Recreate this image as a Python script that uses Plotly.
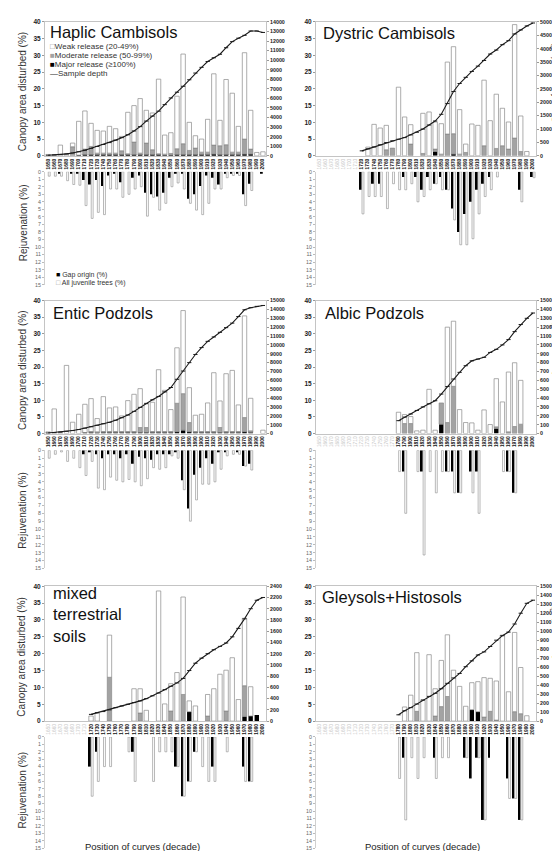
import plotly.graph_objects as go

W, H = 560, 851
FONT = "Liberation Sans, Arial, sans-serif"

decades = [1650, 1660, 1670, 1680, 1690, 1700, 1710, 1720, 1730, 1740, 1750, 1760,
           1770, 1780, 1790, 1800, 1810, 1820, 1830, 1840, 1850, 1860, 1870, 1880,
           1890, 1900, 1910, 1920, 1930, 1940, 1950, 1960, 1970, 1980, 1990, 2000]

# ---------------- Haplic Cambisols ----------------
haplic_weak = [0.4, 0.3, 3.2, 0.5, 1.1, 10.1, 11.4, 6.9, 6.8, 6.6, 8.0, 7.3, 4.3, 12.4, 10.9, 16.3, 9.8, 11.0,
               22.3, 5.7, 6.2, 15.7, 26.8, 8.4, 3.7, 3.9, 9.8, 21.3, 7.6, 19.5, 17.6, 7.7, 25.8, 11.6, 1.0, 1.2]
haplic_moderate = [0, 0, 0, 0, 2.7, 0, 1.7, 2.5, 0.5, 0.5, 0.5, 0.5, 1.2, 0.3, 3.8, 0.5, 3.5, 1.5,
                   0.3, 0.3, 0.5, 1.8, 3.3, 1.3, 2.0, 0.8, 0.8, 2.7, 2.7, 3.0, 0.8, 0.8, 4.5, 1.5, 0, 0]
haplic_major = [0, 0, 0, 0, 0, 0.2, 0.3, 0.3, 0.3, 0.3, 0.3, 0.3, 0.3, 0.3, 0.3, 0.3, 0.3, 0.3,
                0.3, 0.2, 0.2, 0.3, 0.3, 0.3, 0.3, 0.3, 0.3, 0.5, 0.3, 0.3, 0.3, 0.3, 0.5, 0.5, 0, 0]
haplic_depth = [50, 80, 130, 200, 300, 420, 590, 780, 980, 1180, 1380, 1640, 1900, 2200, 2600, 3050, 3630, 4150,
                4670, 5350, 6050, 6650, 7270, 7950, 8650, 9250, 9860, 10250, 10620, 11300, 11940, 12300, 12600,
                13050, 13050, 12900]
haplic_gap = [0, 0, 0.2, 0, 0.2, 0.2, 1.1, 1.7, 1.1, 1.9, 0.5, 0.2, 1.4, 0, 0.8, 0.5, 2.8, 3.0,
              3.3, 2.8, 0.8, 0.2, 0.2, 3.6, 3.0, 1.9, 0.5, 0.8, 1.7, 0.2, 0.2, 0.2, 3.0, 1.6, 0, 0.2]
haplic_juvenile = [0.6, 0.6, 0.6, 1.2, 1.7, 1.8, 4.5, 6.2, 5.4, 5.7, 2.3, 2.3, 3.4, 3.0, 2.3, 2.0, 5.9, 3.4,
                   5.1, 4.2, 2.0, 1.5, 2.3, 4.2, 5.1, 5.7, 4.2, 2.3, 2.3, 0.8, 0.5, 0.5, 4.5, 2.5, 0, 0]

# ---------------- Dystric Cambisols ----------------
dystric_weak = [0, 0, 0, 0, 0, 0, 0, 0, 2.6, 9.4, 8.3, 7.3, 0, 20.5, 11.6, 5.8, 0, 12.0,
                13.1, 8.1, 9.1, 21.5, 26.0, 13.3, 2.5, 9.5, 9.1, 19.6, 10.5, 16.2, 11.2, 8.1, 33.9, 10.6, 1.3, 0]
dystric_moderate = [0, 0, 0, 0, 0, 0, 0, 0, 0, 0, 0, 1.8, 2.3, 0, 0, 3.5, 0, 0.7,
                    0, 0.7, 0.5, 6.5, 6.1, 0.5, 1.0, 0, 0, 3.0, 0, 2.2, 3.0, 2.0, 5.3, 1.3, 0, 0]
dystric_major = [0, 0, 0, 0, 0, 0, 0, 0, 0, 0, 0, 0, 0, 0, 0, 0, 0, 0,
                 0, 1.3, 0, 0, 0.5, 0, 0, 0, 0, 0, 0, 0, 0, 0, 0, 0, 0, 0]
dystric_depth = [None, None, None, None, None, None, None, 185, 260, 330, 410, 494, 560, 620, 680, 780, 880, 1000,
                 1150, 1300, 1550, 1950, 2400, 2700, 2930, 3150, 3350, 3560, 3800, 3950, 4150, 4300, 4550, 4700,
                 4850, 4960]
dystric_gap = [0, 0, 0, 0, 0, 0, 0, 2.4, 0, 1.6, 1.6, 0, 0, 0, 0.7, 0, 0.7, 2.4,
               0.7, 1.6, 0.7, 2.4, 4.9, 8.0, 5.6, 4.0, 2.4, 1.6, 0.7, 0, 0, 0, 0, 2.4, 0, 0.7]
dystric_juvenile = [0, 0, 0, 0, 0, 0, 0, 5.6, 3.3, 3.3, 3.3, 4.9, 1.6, 2.4, 2.4, 1.6, 4.0, 3.3,
                    2.4, 1.6, 2.4, 2.4, 6.4, 9.7, 9.7, 8.9, 5.6, 3.3, 2.4, 0.7, 0, 0, 0, 4.0, 0, 0.8]

# ---------------- Entic Podzols ----------------
entic_weak = [0.5, 7.4, 0.3, 20.5, 3.4, 5.8, 8.5, 9.9, 4.0, 10.5, 7.1, 7.4, 4.7, 9.3, 11.2, 11.7, 7.1, 8.8,
              18.6, 12.4, 6.6, 16.7, 25.0, 10.5, 4.9, 5.2, 8.6, 17.7, 8.0, 17.4, 18.4, 8.0, 30.6, 9.8, 0, 1.0]
entic_moderate = [0, 0, 0, 0, 0, 0, 0, 0.3, 0.3, 0.3, 0.3, 0.3, 0.3, 0.3, 0.3, 1.5, 1.5, 0.3,
                  0.3, 0.3, 0.3, 8.6, 11.0, 2.8, 0.3, 0.3, 0.3, 0.3, 1.5, 0.3, 0.3, 0.3, 4.3, 0.5, 0, 0]
entic_major = [0, 0, 0, 0, 0, 0, 0.3, 0.3, 0.2, 0.3, 0.3, 0.3, 0.3, 0.3, 0.3, 0.3, 0.3, 0.3,
               0.3, 0.3, 0.3, 0.5, 1.0, 0.5, 0.3, 0.3, 0.3, 0.3, 0.3, 0.3, 0.3, 0.3, 0.5, 0.3, 0, 0]
entic_depth = [50, 100, 160, 250, 330, 450, 600, 760, 930, 1100, 1270, 1500, 1780, 2090, 2500, 2950, 3400, 3800,
               4180, 4700, 5190, 6120, 7050, 8000, 8920, 9700, 10400, 10900, 11420, 11950, 12460, 13200, 13960,
               14200, 14350, 14450]
entic_gap = [0, 0, 0, 0, 0, 0, 0.5, 0.2, 0.5, 1.0, 0.5, 0.5, 1.0, 0.5, 1.7, 0.8, 1.0, 1.2,
             0.5, 0.5, 0.5, 0.2, 3.8, 7.4, 3.1, 2.2, 1.0, 1.7, 0.2, 0.2, 0, 0.2, 2.0, 1.7, 0, 0]
entic_juvenile = [1.0, 0.5, 0.2, 1.4, 1.0, 2.2, 3.2, 1.4, 4.8, 5.0, 3.4, 3.8, 4.0, 3.7, 4.0, 4.5, 3.6, 2.2,
                  2.4, 2.2, 0.7, 1.0, 5.0, 9.0, 6.3, 4.3, 4.3, 4.0, 2.4, 0.7, 0.5, 0.5, 2.0, 2.5, 0, 0]

# ---------------- Albic Podzols ----------------
albic_weak = [0, 0, 0, 0, 0, 0, 0, 0, 0, 0, 0, 0, 0, 6.4, 2.7, 2.1, 0.8, 1.0,
              13.3, 1.0, 0, 28.7, 19.6, 7.2, 3.3, 3.2, 1.0, 7.1, 2.7, 14.5, 9.5, 18.0, 19.2, 13.2, 0, 0]
albic_moderate = [0, 0, 0, 0, 0, 0, 0, 0, 0, 0, 0, 0, 0, 0, 3.0, 3.0, 0, 0,
                  0, 0, 6.4, 3.3, 14.2, 0, 0, 0, 0, 0, 0, 0.5, 0, 0.5, 2.1, 2.8, 0, 0]
albic_major = [0, 0, 0, 0, 0, 0, 0, 0, 0, 0, 0, 0, 0, 0, 0, 0, 0, 0,
               0, 0, 2.8, 0, 0, 0, 0, 0, 0, 0, 0, 1.5, 0, 0, 0, 0, 0, 0]
albic_depth = [None, None, None, None, None, None, None, None, None, None, None, None, None, 145, 185, 220, 260, 300,
               335, 370, 445, 530, 615, 690, 765, 820, 840, 860, 915, 950, 1000, 1060, 1150, 1230, 1300, 1360]
albic_gap = [0, 0, 0, 0, 0, 0, 0, 0, 0, 0, 0, 0, 0, 0, 2.7, 0, 0, 2.7,
             0, 0, 0, 2.7, 2.7, 5.4, 0, 2.7, 2.7, 0, 0, 0, 0, 2.7, 5.4, 0, 0, 0]
albic_juvenile = [0, 0, 0, 0, 0, 0, 0, 0, 0, 0, 0, 0, 0, 2.7, 8.0, 0, 2.7, 13.3,
                  2.7, 5.4, 2.7, 2.7, 5.4, 5.4, 0, 5.4, 8.0, 0, 0, 0, 2.7, 2.7, 5.4, 0, 0, 0]

# ---------------- mixed terrestrial soils ----------------
mixed_weak = [0, 0, 0, 0, 0, 0, 0, 1.5, 2.4, 0, 12.5, 0, 0, 0, 9.6, 7.2, 3.2, 0,
              38.6, 5.1, 8.1, 14.4, 28.9, 3.2, 4.5, 0, 6.4, 9.6, 13.9, 12.1, 18.8, 6.4, 20.0, 8.7, 0, 0]
mixed_moderate = [0, 0, 0, 0, 0, 0, 0, 0, 0, 0, 13.0, 0, 0, 0, 0, 2.4, 0, 0,
                  0, 0, 3.0, 0, 7.9, 0, 0, 0, 1.5, 0, 0, 3.0, 0, 0, 9.1, 0, 0, 0]
mixed_major = [0, 0, 0, 0, 0, 0, 0, 0, 0, 0, 0, 0, 0, 0, 0, 0, 0, 0,
               0, 0, 0, 0, 0, 2.8, 0, 0, 0, 0, 0, 0, 0, 0, 1.4, 1.5, 1.8, 0]
mixed_depth = [None, None, None, None, None, None, None, 120, 150, 170, 200, 240, 270, 300, 330, 360, 400, 450,
               500, 560, 620, 680, 760, 900, 1030, 1120, 1200, 1270, 1330, 1390, 1500, 1650, 1820, 2000, 2150, 2200]
mixed_gap = [0, 0, 0, 0, 0, 0, 0, 4.0, 2.0, 0, 0, 0, 0, 0, 2.0, 0, 0, 0,
             0, 0, 0, 4.0, 8.0, 6.0, 2.0, 0, 0, 4.0, 0, 0, 0, 0, 4.0, 6.0, 0, 0]
mixed_juvenile = [0, 0, 0, 0, 0, 0, 0, 8.0, 6.0, 4.0, 4.0, 0, 0, 2.0, 6.0, 0, 0, 6.0,
                  2.0, 2.0, 2.0, 4.0, 8.0, 6.0, 2.0, 4.0, 6.0, 6.0, 0, 2.0, 0, 0, 6.0, 6.0, 0, 0]

# ---------------- Gleysols+Histosols ----------------
gleys_weak = [0, 0, 0, 0, 0, 0, 0, 0, 0, 0, 0, 0, 0, 0, 4.2, 7.7, 17.4, 6.2,
              19.7, 8.1, 13.7, 18.3, 15.1, 10.3, 4.4, 8.0, 8.9, 11.7, 9.8, 11.6, 25.5, 8.7, 23.5, 13.7, 1.6, 0]
gleys_moderate = [0, 0, 0, 0, 0, 0, 0, 0, 0, 0, 0, 0, 0, 0, 0, 0, 2.9, 0,
                  0, 1.5, 4.3, 7.3, 0, 0, 0, 0, 0, 1.2, 2.9, 0.3, 0, 0, 2.8, 2.2, 0, 0]
gleys_major = [0, 0, 0, 0, 0, 0, 0, 0, 0, 0, 0, 0, 0, 0, 0, 0, 0, 0,
               0, 0, 0, 0, 0, 0, 0, 3.4, 2.8, 0, 0, 0, 0, 0, 0, 0, 0, 0]
gleys_depth = [None, None, None, None, None, None, None, None, None, None, None, None, None, 70, 115, 150, 190, 235,
               275, 310, 360, 420, 480, 530, 605, 670, 735, 770, 830, 900, 950, 990, 1080, 1200, 1310, 1345]
gleys_gap = [0, 0, 0, 0, 0, 0, 0, 0, 0, 0, 0, 0, 0, 0, 2.8, 0, 0, 0,
             0, 2.8, 0, 0, 0, 0, 2.8, 5.6, 2.8, 11.2, 2.8, 0, 0, 5.6, 8.3, 11.2, 0, 0]
gleys_juvenile = [0, 0, 0, 0, 0, 0, 0, 0, 0, 0, 0, 0, 0, 5.6, 11.2, 2.8, 5.6, 2.8,
                  0, 5.6, 2.8, 2.8, 0, 0, 2.8, 0, 2.8, 11.2, 0, 0, 0, 8.3, 8.3, 11.2, 0, 0]

panel_titles = ["Haplic Cambisols", "Dystric Cambisols", "Entic Podzols", "Albic Podzols",
                "mixed<br>terrestrial<br>soils", "Gleysols+Histosols"]
first_decade = [1650, 1720, 1650, 1780, 1720, 1780]
depth_max = [14000, 5000, 15000, 1500, 2400, 1500]
depth_step = [1000, 500, 1000, 100, 200, 100]

series = [
    (haplic_weak, haplic_moderate, haplic_major, haplic_depth, haplic_gap, haplic_juvenile),
    (dystric_weak, dystric_moderate, dystric_major, dystric_depth, dystric_gap, dystric_juvenile),
    (entic_weak, entic_moderate, entic_major, entic_depth, entic_gap, entic_juvenile),
    (albic_weak, albic_moderate, albic_major, albic_depth, albic_gap, albic_juvenile),
    (mixed_weak, mixed_moderate, mixed_major, mixed_depth, mixed_gap, mixed_juvenile),
    (gleys_weak, gleys_moderate, gleys_major, gleys_depth, gleys_gap, gleys_juvenile),
]

# ---------------- layout geometry (pixels) ----------------
cols = [(37, 258), (308, 528)]
rows_upper = [(10, 145), (291, 425), (579, 715)]
rows_rejuv = [(161, 275), (442, 561), (731, 843)]


def xd(a, b):
    return [a / W, b / W]


def yd(top, bottom):
    return [1 - bottom / H, 1 - top / H]


def nz(a):
    return [v if v else None for v in a]


def an(n):
    return "" if n == 1 else str(n)


fig = go.Figure()
layout = {}
annotations = []

GRAYLINE = "#c4c4c4"

for p in range(6):
    r, c = divmod(p, 2)
    weak, moderate, major, depth, gap, juvenile = series[p]
    xu, xr = 2 * p + 1, 2 * p + 2
    yu, yright, yr = 3 * p + 1, 3 * p + 2, 3 * p + 3
    base_weak = [a + b for a, b in zip(major, moderate)]

    fig.add_trace(go.Bar(x=decades, y=nz(major), base=0, width=7.2,
                         marker=dict(color="#000000", line=dict(width=0)),
                         xaxis="x" + an(xu), yaxis="y" + an(yu), showlegend=False,
                         name="Major release (≥100%)"))
    fig.add_trace(go.Bar(x=decades, y=nz(moderate), base=major, width=7.2,
                         marker=dict(color="#a3a3a3", line=dict(width=0.6, color="#7f7f7f")),
                         xaxis="x" + an(xu), yaxis="y" + an(yu), showlegend=False,
                         name="Moderate release (50-99%)"))
    fig.add_trace(go.Bar(x=decades, y=nz(weak), base=base_weak, width=7.2,
                         marker=dict(color="#ffffff", line=dict(width=0.7, color="#8a8a8a")),
                         xaxis="x" + an(xu), yaxis="y" + an(yu), showlegend=False,
                         name="Weak release (20-49%)"))
    fig.add_trace(go.Scatter(x=decades, y=depth, mode="lines+markers",
                             line=dict(color="#1a1a1a", width=1.1),
                             marker=dict(symbol="line-ew-open", size=3, line=dict(width=1, color="#777")),
                             xaxis="x" + an(xu), yaxis="y" + an(yright), showlegend=False,
                             name="Sample depth", connectgaps=False))
    fig.add_trace(go.Bar(x=decades, y=nz(gap), base=0, width=3.1, offset=-3.4,
                         marker=dict(color="#000000", line=dict(width=0)),
                         xaxis="x" + an(xr), yaxis="y" + an(yr), showlegend=False,
                         name="Gap origin (%)"))
    fig.add_trace(go.Bar(x=decades, y=nz(juvenile), base=0, width=3.1, offset=0.3,
                         marker=dict(color="#ffffff", line=dict(width=0.7, color="#999999")),
                         xaxis="x" + an(xr), yaxis="y" + an(yr), showlegend=False,
                         name="All juvenile trees (%)"))

    ticktext = [("<b>%d</b>" % d) if d >= first_decade[p]
                else ("<span style='color:#c8c8c8'>%d</span>" % d) for d in decades]

    x0, x1 = cols[c]
    ut, ub = rows_upper[r]
    rt, rb = rows_rejuv[r]

    layout["xaxis" + an(xu)] = dict(
        domain=xd(x0, x1), range=[1645, 2005], anchor="y" + an(yu),
        tickmode="array", tickvals=decades, ticktext=ticktext, tickangle=-90,
        tickfont=dict(size=4.8, family=FONT, color="#111"), ticks="", ticklen=0,
        showline=True, mirror=True, linecolor=GRAYLINE, linewidth=1,
        showgrid=False, zeroline=False, fixedrange=True)
    layout["yaxis" + an(yu)] = dict(
        domain=yd(ut, ub), range=[0, 40], dtick=5, anchor="x" + an(xu),
        tickfont=dict(size=6.5, family=FONT, color="#222", weight="bold"),
        ticks="outside", ticklen=2, tickcolor="#999",
        showline=True, mirror=True, linecolor=GRAYLINE, linewidth=1,
        showgrid=False, zeroline=False)
    layout["yaxis" + an(yright)] = dict(
        overlaying="y" + an(yu), side="right", anchor="x" + an(xu),
        range=[0, depth_max[p]], dtick=depth_step[p], tickformat="d",
        tickfont=dict(size=5.3, family=FONT, color="#222", weight="bold"),
        ticks="outside", ticklen=2, tickcolor="#999",
        showline=False, showgrid=False, zeroline=False)
    layout["xaxis" + an(xr)] = dict(
        domain=xd(x0, x1), range=[1645, 2005], anchor="y" + an(yr),
        showticklabels=False, showline=False, ticks="", showgrid=False, zeroline=False)
    layout["yaxis" + an(yr)] = dict(
        domain=yd(rt, rb), range=[15, 0], dtick=1, anchor="x" + an(xr),
        tickfont=dict(size=5.3, family=FONT, color="#666"),
        ticks="outside", ticklen=2, tickcolor="#bbb",
        showline=True, linecolor="#d0d0d0", linewidth=1,
        showgrid=False, zeroline=False)

    # panel title
    title_y = {0: (20, 21), 1: (303, 303), 2: (608, 590)}[r][c]
    title_x = [40, 313][c] if r == 0 else ([43, 315][c] if r == 1 else [43, 312][c])
    annotations.append(dict(text=panel_titles[p], x=title_x / W, y=1 - title_y / H,
                            xref="paper", yref="paper", xanchor="left", yanchor="middle",
                            align="left", showarrow=False,
                            font=dict(size=16.5, family=FONT, color="#111")))

# axis titles
canopy_y = [80, 361, 650]
rejuv_y = [213, 503, 785]
sum_y = [71, 352, 638]
for r in range(3):
    annotations.append(dict(text="Canopy area disturbed (%)", x=14 / W, y=1 - canopy_y[r] / H,
                            xref="paper", yref="paper", textangle=-90, showarrow=False,
                            xanchor="center", yanchor="middle",
                            font=dict(size=10, family=FONT, color="#333")))
    annotations.append(dict(text="Rejuvenation (%)", x=15 / W, y=1 - rejuv_y[r] / H,
                            xref="paper", yref="paper", textangle=-90, showarrow=False,
                            xanchor="center", yanchor="middle",
                            font=dict(size=10, family=FONT, color="#333")))
    annotations.append(dict(text="Sum of canopy (m<sup>2</sup>)", x=547 / W, y=1 - sum_y[r] / H,
                            xref="paper", yref="paper", textangle=-90, showarrow=False,
                            xanchor="center", yanchor="middle",
                            font=dict(size=9, family=FONT, color="#333")))

for cx in (134, 414):
    annotations.append(dict(text="Position of curves (decade)", x=cx / W, y=1 - 841 / H,
                            xref="paper", yref="paper", showarrow=False,
                            xanchor="center", yanchor="middle",
                            font=dict(size=9.5, family=FONT, color="#222")))

# legends (panel 1)
leg1 = [("<span style='color:#8a8a8a'>□</span>Weak release (20-49%)", 35),
        ("<span style='color:#a3a3a3'>■</span>Moderate release (50-99%)", 44),
        ("<span style='color:#000'>■</span>Major release (≥100%)", 53),
        ("<span style='color:#222'>—</span>Sample depth", 62)]
for t, yy in leg1:
    annotations.append(dict(text=t, x=40 / W, y=1 - yy / H, xref="paper", yref="paper",
                            xanchor="left", yanchor="middle", showarrow=False,
                            font=dict(size=8, family=FONT, color="#333")))
leg2 = [("<span style='color:#000'>■</span> Gap origin (%)", 265),
        ("<span style='color:#999'>□</span> All juvenile trees (%)", 273)]
for t, yy in leg2:
    annotations.append(dict(text=t, x=46 / W, y=1 - yy / H, xref="paper", yref="paper",
                            xanchor="left", yanchor="middle", showarrow=False,
                            font=dict(size=7, family=FONT, color="#333")))

fig.update_layout(**layout)
fig.update_layout(width=W, height=H, margin=dict(l=0, r=0, t=0, b=0),
                  paper_bgcolor="white", plot_bgcolor="white",
                  barmode="overlay", showlegend=False,
                  font=dict(family=FONT), annotations=annotations)

fig.write_html("out.html")
